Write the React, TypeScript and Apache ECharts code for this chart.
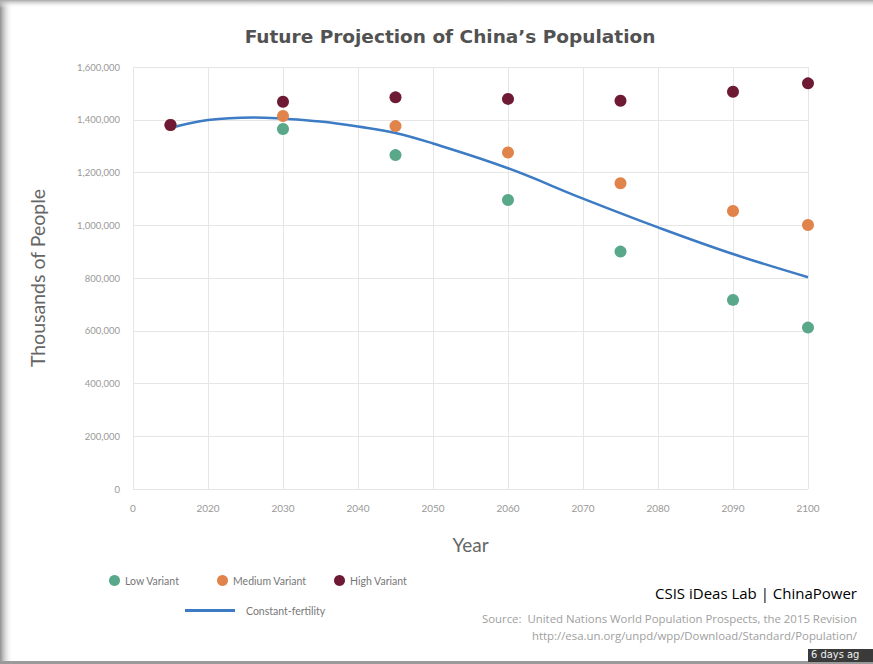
import React, { useEffect, useRef } from "react";
import * as echarts from "echarts";

const variantYears = [2015, 2030, 2045, 2060, 2075, 2090, 2100];
const lowVariant = [1380000, 1365000, 1266000, 1096000, 900000, 717000, 612000];
const mediumVariant = [1380000, 1414000, 1376000, 1276000, 1159000, 1054000, 1001000];
const highVariant = [1380000, 1468000, 1485000, 1479000, 1472000, 1506000, 1538000];

const constantYears = [2015, 2020, 2026, 2030, 2035, 2040, 2045, 2050, 2060, 2070, 2080, 2090, 2100];
const constantFertility = [1369000, 1399000, 1409000, 1404000, 1393000, 1374000, 1350000, 1310000, 1216000, 1101000, 992000, 891000, 803000];

const xTicks = [2010, 2020, 2030, 2040, 2050, 2060, 2070, 2080, 2090, 2100];
const xTickLabels = ["0", "2020", "2030", "2040", "2050", "2060", "2070", "2080", "2090", "2100"];

const COLORS = {
  low: "#5aa88a",
  medium: "#e0844c",
  high: "#6e1a35",
  line: "#3d7cc4",
};

const pair = (xs: number[], ys: number[]) => xs.map((x, i) => [x, ys[i]]);

export default function App() {
  const ref = useRef<HTMLDivElement>(null);
  useEffect(() => {
    if (!ref.current) return;
    const chart = echarts.init(ref.current, undefined, { renderer: "svg" });
    const labelFont = "Lato";
    const legendCommon = {
      orient: "horizontal" as const,
      itemWidth: 11,
      itemHeight: 11,
      icon: "circle",
      textStyle: { fontSize: 10.5, color: "#777", fontFamily: labelFont },
      itemGap: 10,
    };
    chart.setOption({
      animation: false,
      backgroundColor: "#ffffff",
      title: {
        text: "Future Projection of China\u2019s Population",
        left: 445,
        textAlign: "center",
        top: 22,
        textStyle: { fontSize: 18.5, fontWeight: "bold", color: "#525252", fontFamily: "DejaVu Sans" },
      },
      grid: { left: 133, right: 65, top: 67, bottom: 175, containLabel: false },
      xAxis: {
        type: "value",
        min: 2010,
        max: 2100,
        interval: 10,
        name: "Year",
        nameLocation: "middle",
        nameGap: 46,
        nameTextStyle: { fontSize: 19, color: "#666", fontFamily: labelFont },
        axisLine: { show: false },
        axisTick: { show: false },
        axisLabel: {
          margin: 14,
          fontSize: 10,
          color: "#999",
          fontFamily: labelFont,
          formatter: (v: number) => {
            const i = xTicks.indexOf(v);
            return i >= 0 ? xTickLabels[i] : String(v);
          },
        },
        splitLine: { show: true, lineStyle: { color: "#e6e6e6", width: 1 } },
      },
      yAxis: {
        type: "value",
        min: 0,
        max: 1600000,
        interval: 200000,
        name: "Thousands of People",
        nameLocation: "middle",
        nameGap: 86,
        nameTextStyle: { fontSize: 19.5, color: "#666", fontFamily: labelFont },
        axisLine: { show: false },
        axisTick: { show: false },
        axisLabel: {
          margin: 13,
          fontSize: 9.5,
          color: "#999",
          fontFamily: labelFont,
          formatter: (v: number) => v.toLocaleString("en-US"),
        },
        splitLine: { show: true, lineStyle: { color: "#e6e6e6", width: 1 } },
      },
      legend: [
        { ...legendCommon, left: 104, top: 570, data: ["Low Variant"] },
        { ...legendCommon, left: 212, top: 570, data: ["Medium Variant"] },
        { ...legendCommon, left: 329, top: 570, data: ["High Variant"] },
        {
          ...legendCommon,
          left: 180,
          top: 600,
          icon: "rect",
          itemWidth: 50,
          itemHeight: 3,
          data: ["Constant-fertility"],
          textStyle: { fontSize: 10.5, color: "#777", fontFamily: labelFont, padding: [0, 0, 0, 6] },
        },
      ],
      series: [
        {
          name: "Constant-fertility",
          type: "line",
          data: pair(constantYears, constantFertility),
          smooth: 0.4,
          showSymbol: false,
          symbol: "none",
          lineStyle: { color: COLORS.line, width: 2.5 },
          itemStyle: { color: COLORS.line },
          z: 2,
        },
        {
          name: "Low Variant",
          type: "scatter",
          data: pair(variantYears, lowVariant),
          symbolSize: 12,
          itemStyle: { color: COLORS.low, opacity: 1 },
          z: 3,
        },
        {
          name: "Medium Variant",
          type: "scatter",
          data: pair(variantYears, mediumVariant),
          symbolSize: 12,
          itemStyle: { color: COLORS.medium, opacity: 1 },
          z: 4,
        },
        {
          name: "High Variant",
          type: "scatter",
          data: pair(variantYears, highVariant),
          symbolSize: 12,
          itemStyle: { color: COLORS.high, opacity: 1 },
          z: 5,
        },
      ],
      graphic: [
        {
          type: "rect",
          left: 0,
          top: 0,
          shape: { width: 13, height: 664 },
          style: {
            fill: new echarts.graphic.LinearGradient(0, 0, 1, 0, [
              { offset: 0, color: "#8f8f8f" },
              { offset: 1, color: "rgba(255,255,255,0)" },
            ]),
          },
          z: 10,
        },
        {
          type: "rect",
          left: 0,
          top: 0,
          shape: { width: 873, height: 8 },
          style: {
            fill: new echarts.graphic.LinearGradient(0, 0, 0, 1, [
              { offset: 0, color: "#a8a8a8" },
              { offset: 1, color: "rgba(255,255,255,0)" },
            ]),
          },
          z: 10,
        },
        {
          type: "rect",
          left: 0,
          top: 661,
          shape: { width: 873, height: 3 },
          style: { fill: "#9a9a9a" },
          z: 10,
        },
        {
          type: "text",
          right: 16,
          top: 585,
          style: {
            text: "{a|CSIS iDeas Lab | }{b|ChinaPower}",
            rich: {
              a: { fontSize: 15, color: "#555", fontFamily: "Open Sans" },
              b: { fontSize: 15, color: "#c4353b", fontFamily: "Open Sans" },
            },
          },
          z: 11,
        },
        {
          type: "text",
          right: 16,
          top: 613,
          style: {
            text: "Source:  United Nations World Population Prospects, the 2015 Revision",
            fontSize: 11.4,
            fill: "#a0a0a0",
            fontFamily: "Open Sans",
          },
          z: 11,
        },
        {
          type: "text",
          right: 16,
          top: 630,
          style: {
            text: "http://esa.un.org/unpd/wpp/Download/Standard/Population/",
            fontSize: 11.4,
            fill: "#a0a0a0",
            fontFamily: "Open Sans",
          },
          z: 11,
        },
        {
          type: "rect",
          left: 808,
          top: 649,
          shape: { width: 65, height: 13 },
          style: { fill: "#3a3a3a" },
          z: 12,
        },
        {
          type: "text",
          left: 811,
          top: 649,
          style: { text: "6 days ag", fontSize: 11, fill: "#f0f0f0", fontFamily: "DejaVu Sans Condensed" },
          z: 13,
        },
      ],
    });
    return () => chart.dispose();
  }, []);
  return (
    <div
      ref={ref}
      style={{ position: "fixed", left: 0, top: 0, width: 873, height: 664, background: "#fff" }}
    />
  );
}
